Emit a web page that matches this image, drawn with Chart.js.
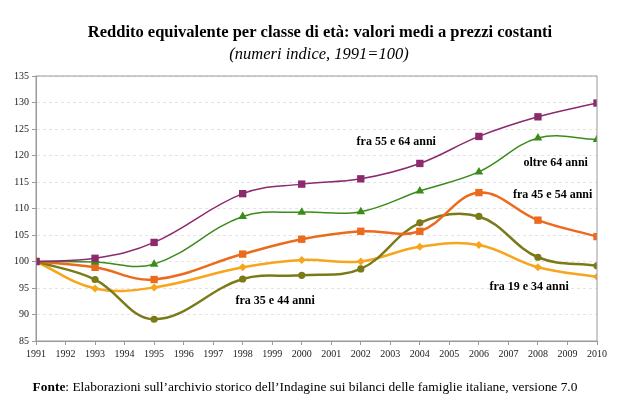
<!DOCTYPE html>
<html>
<head>
<meta charset="utf-8">
<script src="https://cdn.jsdelivr.net/npm/chart.js@4"></script>
<style>
  html, body { margin: 0; padding: 0; background: #fff; }
  #wrap { width: 620px; height: 409px; position: relative; }
</style>
</head>
<body>
<div id="wrap"><canvas id="grafico"></canvas></div>
<script>
// anni dell'indagine
const anni = [1991, 1993, 1995, 1998, 2000, 2002, 2004, 2006, 2008, 2010];

// numeri indice, 1991=100
const fra55e64 = [100, 100.6, 103.6, 112.8, 114.6, 115.6, 118.5, 123.6, 127.3, 129.9];
const oltre64  = [100, 99.9, 99.5, 108.5, 109.3, 109.4, 113.3, 116.9, 123.3, 123.0];
const fra45e54 = [100, 98.9, 96.6, 101.4, 104.2, 105.7, 105.7, 113.0, 107.8, 104.7];
const fra35e44 = [100, 96.6, 89.1, 96.7, 97.4, 98.6, 107.3, 108.5, 100.8, 99.2];
const fra19e34 = [100, 94.9, 95.1, 98.9, 100.3, 100.0, 102.8, 103.1, 98.9, 97.1];

const titolo = 'Reddito equivalente per classe di età: valori medi a prezzi costanti';
const sottotitolo = '(numeri indice, 1991=100)';
const fonteBold = 'Fonte';
const fonteTesto = ': Elaborazioni sull\u2019archivio storico dell\u2019Indagine sui bilanci delle famiglie italiane, versione 7.0';

// etichette delle serie dentro il grafico (anno, valore)
const etichette = [
    { testo: 'fra 55 e 64 anni', x: 2003.2, y: 122.6 },
    { testo: 'oltre 64 anni', x: 2008.6, y: 118.6 },
    { testo: 'fra 45 e 54 anni', x: 2008.5, y: 112.6 },
    { testo: 'fra 35 e 44 anni', x: 1999.1, y: 92.5 },
    { testo: 'fra 19 e 34 anni', x: 2007.7, y: 95.3 }
];

const serif = '"Liberation Serif", "DejaVu Serif", serif';

function punti(valori) {
    return anni.map((a, i) => ({ x: a, y: valori[i] }));
}

function serie(label, valori, colore, stile, spessore, raggio) {
    return {
        label: label,
        data: punti(valori),
        borderColor: colore,
        backgroundColor: colore,
        borderWidth: spessore,
        pointStyle: stile,
        pointRadius: raggio,
        pointBorderWidth: 0,
        tension: 0.38
    };
}

const testiPlugin = {
    id: 'testi',
    afterDraw(chart) {
        const ctx = chart.ctx;
        const area = chart.chartArea;
        ctx.save();
        // cornice
        ctx.strokeStyle = '#9a9a9a';
        ctx.lineWidth = 1;
        ctx.strokeRect(area.left, area.top, area.right - area.left, area.bottom - area.top);

        ctx.fillStyle = '#000';
        ctx.textAlign = 'center';
        ctx.textBaseline = 'middle';
        ctx.font = 'bold 16.5px ' + serif;
        ctx.fillText(titolo, 320, 33);
        ctx.font = 'italic 16.5px ' + serif;
        ctx.fillText(sottotitolo, 319, 55);

        // etichette serie
        ctx.font = 'bold 12px ' + serif;
        const sx = chart.scales.x, sy = chart.scales.y;
        etichette.forEach(e => {
            ctx.fillText(e.testo, sx.getPixelForValue(e.x), sy.getPixelForValue(e.y));
        });

        // fonte
        ctx.textAlign = 'left';
        ctx.textBaseline = 'alphabetic';
        ctx.font = 'bold 13.4px ' + serif;
        const w1 = ctx.measureText(fonteBold).width;
        ctx.font = '13.4px ' + serif;
        const w2 = ctx.measureText(fonteTesto).width;
        let x0 = 305 - (w1 + w2) / 2;
        ctx.font = 'bold 13.4px ' + serif;
        ctx.fillText(fonteBold, x0, 391);
        ctx.font = '13.4px ' + serif;
        ctx.fillText(fonteTesto, x0 + w1, 391);
        ctx.restore();
    }
};

new Chart(document.getElementById('grafico'), {
    type: 'line',
    data: {
        datasets: [
            serie('fra 55 e 64 anni', fra55e64, '#8b2a6c', 'rect', 1.5, 5.2),
            serie('oltre 64 anni', oltre64, '#3a8c1a', 'triangle', 1.5, 5),
            serie('fra 45 e 54 anni', fra45e54, '#ec6a1c', 'rect', 2.5, 5.2),
            serie('fra 35 e 44 anni', fra35e44, '#7b7a18', 'circle', 2.5, 3.6),
            serie('fra 19 e 34 anni', fra19e34, '#f7a51c', 'rectRot', 2.5, 4)
        ]
    },
    options: {
        responsive: true,
        maintainAspectRatio: false,
        animation: false,
        layout: { padding: { left: 0, top: 76, right: 23, bottom: 0 } },
        plugins: {
            legend: { display: false },
            tooltip: { enabled: false }
        },
        scales: {
            x: {
                type: 'linear',
                min: 1991,
                max: 2010,
                afterFit: (s) => { s.height = 68; },
                ticks: {
                    stepSize: 1,
                    autoSkip: false,
                    maxRotation: 0,
                    color: '#222',
                    font: { family: serif, size: 10 },
                    callback: (v) => String(v)
                },
                grid: { drawOnChartArea: false, drawTicks: true, tickLength: 4, color: '#9a9a9a' },
                border: { color: '#9a9a9a' }
            },
            y: {
                min: 85,
                max: 135,
                afterFit: (s) => { s.width = 36; },
                ticks: {
                    stepSize: 5,
                    color: '#222',
                    font: { family: serif, size: 10 }
                },
                grid: { color: '#e4e4e4', tickLength: 4, tickColor: '#9a9a9a' },
                border: { color: '#9a9a9a', dash: [3, 3] }
            }
        }
    },
    plugins: [testiPlugin]
});
</script>
</body>
</html>
